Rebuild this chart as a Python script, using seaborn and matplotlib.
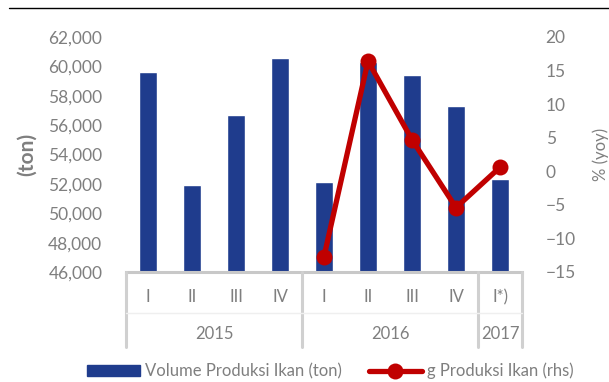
import matplotlib
matplotlib.use("Agg")
import matplotlib.pyplot as plt
import matplotlib.transforms as mtransforms
from matplotlib.lines import Line2D
from matplotlib.patches import Patch
import seaborn as sns
import pandas as pd
import numpy as np

quarters = ["I", "II", "III", "IV", "I", "II", "III", "IV", "I*)"]
years = ["2015", "2015", "2015", "2015", "2016", "2016", "2016", "2016", "2017"]
volume = [59600, 51900, 56700, 60600, 52100, 60300, 59400, 57300, 52300]
growth = [None, None, None, None, -12.7, 16.4, 4.7, -5.4, 0.6]
year_groups = ["2015", "2016", "2017"]

sns.set_theme(style="white")
plt.rcParams['font.family'] = ['Lato', 'DejaVu Sans']

gray_txt = "#7F7F7F"
bar_col = "#1F3C8D"
red = "#C00000"
sep_col = "#D0D0D0"

df = pd.DataFrame({"pos": np.arange(len(quarters)), "q": quarters, "year": years,
                   "volume": volume, "growth": growth})

fig = plt.figure(figsize=(6.09, 3.82), dpi=100)
ax = fig.add_axes([126/609, 1-272/382, (522-126)/609, (272-37)/382])

sns.barplot(data=df, x="pos", y="volume", color=bar_col, width=0.43, ax=ax,
            saturation=1, label="Volume Produksi Ikan (ton)", legend=False)
ax.set_ylim(46000, 62000)
ax.set_xlim(-0.5, len(quarters) - 0.5)
ax.set_yticks(np.arange(46000, 62001, 2000))
ax.set_yticklabels([f"{v:,.0f}" for v in np.arange(46000, 62001, 2000)])
ax.tick_params(axis="y", length=0, pad=17, labelsize=12.5, labelcolor=gray_txt)
ax.set_xticks([])
ax.set_xlabel("")
ax.set_ylabel("(ton)", fontsize=15, fontweight="bold", color=gray_txt, labelpad=8)
for s in ["top", "right", "left"]:
    ax.spines[s].set_visible(False)
ax.spines["bottom"].set_color("#C8C8C8")
ax.spines["bottom"].set_linewidth(2.2)

ax2 = ax.twinx()
gdf = df.dropna(subset=["growth"])
sns.lineplot(data=gdf, x="pos", y="growth", color=red, lw=3.8, marker="o",
             markersize=11.5, markeredgewidth=0, ax=ax2)
ax2.set_ylim(-15, 20)
ax2.set_yticks(np.arange(-15, 21, 5))
ax2.tick_params(axis="y", length=0, pad=17, labelsize=12.5, labelcolor=gray_txt)
ax2.set_ylabel("% (yoy)", fontsize=12, color=gray_txt, labelpad=12)
ax2.set_xlabel("")
for s in ["top", "right", "left", "bottom"]:
    ax2.spines[s].set_visible(False)
ax2.set_xlim(-0.5, len(quarters) - 0.5)

# category axis (two levels)
trans = mtransforms.blended_transform_factory(ax.transData, fig.transFigure)
y_top = 1 - 272/382
y_bot = 1 - 347/382
y_q = 1 - 297/382
y_y = 1 - 334/382
for i, q in enumerate(quarters):
    ax.text(i, y_q, q, transform=trans, ha="center", va="center",
            fontsize=12, color=gray_txt, clip_on=False)
bounds = [-0.5]
for yg in year_groups:
    idx = [i for i, y in enumerate(years) if y == yg]
    ax.text(np.mean(idx), y_y, yg, transform=trans, ha="center", va="center",
            fontsize=12, color=gray_txt, clip_on=False)
    bounds.append(idx[-1] + 0.5)
for b in bounds:
    fig.add_artist(Line2D([b, b], [y_top, y_bot], transform=trans,
                          color=sep_col, lw=2.2))
fig.add_artist(Line2D([-0.5, len(quarters) - 0.5], [1 - 313/382, 1 - 313/382],
                      transform=trans, color="#EFEFEF", lw=1))

# top line
fig.add_artist(Line2D([9/609, 1], [1 - 8/382, 1 - 8/382],
                      transform=fig.transFigure, color="black", lw=1))

handles = [Patch(facecolor=bar_col, edgecolor=bar_col),
           Line2D([], [], color=red, lw=3.8, marker="o", markersize=11.5, markeredgewidth=0)]
labels = ["Volume Produksi Ikan (ton)", "g Produksi Ikan (rhs)"]
leg = fig.legend(handles, labels, loc="center", bbox_to_anchor=(0.542, 1 - 371/382),
                 ncol=2, frameon=False, fontsize=12, handlelength=3.2,
                 handleheight=0.6, handletextpad=0.3, columnspacing=1.6)
for t in leg.get_texts():
    t.set_color(gray_txt)

fig.savefig("out.png", dpi=100)
